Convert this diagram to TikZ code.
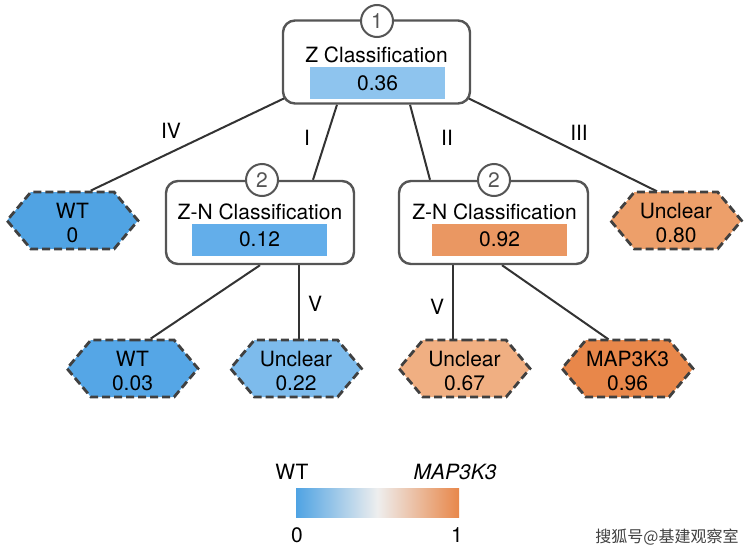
\documentclass[tikz,border=0pt]{standalone}
\usepackage{fontspec}
\setmainfont{TeX Gyre Heros}
\newfontfamily\cjkfont{Noto Sans CJK SC}
\usetikzlibrary{shapes.symbols,backgrounds}

\definecolor{edgegray}{HTML}{333333}
\definecolor{boxgray}{HTML}{555555}
\definecolor{hexgray}{HTML}{404040}
\definecolor{wtblue}{HTML}{4FA3E3}
\definecolor{midgray}{HTML}{EEEEEE}
\definecolor{maporange}{HTML}{E8874A}
% fills for the scores
\definecolor{sc036}{RGB}{142,196,238}
\definecolor{sc012}{RGB}{99,174,234}
\definecolor{sc092}{RGB}{234,151,98}
\definecolor{sc000}{RGB}{80,163,227}
\definecolor{sc080}{RGB}{237,159,106}
\definecolor{sc003}{RGB}{85,166,230}
\definecolor{sc022}{RGB}{125,187,236}
\definecolor{sc067}{RGB}{240,175,130}
\definecolor{sc096}{RGB}{232,135,74}

\tikzset{
  classbox/.style={draw=boxgray, line width=2.4pt, rounded corners=12pt, fill=white,
    minimum width=188pt, minimum height=83pt},
  stepnum/.style={circle, draw=boxgray, line width=2pt, fill=white, minimum size=32pt,
    inner sep=0pt, text=boxgray},
  scorebar/.style={minimum width=135pt, minimum height=32pt, inner sep=0pt},
  leafhex/.style={signal, signal to=west and east, signal pointer angle=100,
    draw=hexgray, dash pattern=on 8pt off 4pt, line width=2.8pt,
    minimum width=131pt, minimum height=57pt, inner sep=0pt, align=center},
  link/.style={draw=edgegray, line width=2pt},
}

\begin{document}
\begin{tikzpicture}[x=1pt, y=-1pt, font=\fontsize{21}{24}\selectfont]
  \useasboundingbox (0,0) rectangle (751,554);

  % Classification boxes
  \node[classbox, minimum width=187pt] (root) at (376.5,62) {};
  \node (roottitle) at (376.5,55) {Z Classification};
  \node[scorebar, fill=sc036] (rootbar) at (377.5,83) {0.36};
  \node[stepnum] (rootnum) at (377,21) {1};

  \node[classbox] (zl) at (260,222.5) {};
  \node (zltitle) at (260,212) {Z-N Classification};
  \node[scorebar, fill=sc012] (zlbar) at (259.5,239.5) {0.12};
  \node[stepnum] (zlnum) at (262,180) {2};

  \node[classbox, minimum width=189pt] (zr) at (493.5,222.5) {};
  \node (zrtitle) at (494.5,212) {Z-N Classification};
  \node[scorebar, fill=sc092] (zrbar) at (499.5,239.5) {0.92};
  \node[stepnum] (zrnum) at (494,180) {2};

  % Leaves
  \foreach \name/\x/\y/\col/\txt in {wt0/72.5/220.5/sc000/WT\\0,
      ufirst/676/220.5/sc080/Unclear\\0.80,
      wtsec/132.5/368.5/sc003/WT\\0.03,
      ulow/296/368.5/sc022/Unclear\\0.22,
      umid/464.5/368.5/sc067/Unclear\\0.67,
      mapk/627.5/368.5/sc096/MAP3K3\\0.96} {
    \node[leafhex, fill=\col] (\name) at (\x,\y) {\rule{0pt}{21pt}\txt};
  }

  % Connectors, behind the boxes
  \begin{pgfonlayer}{background}
    \draw[link] ([shift={(10,-10)}]root.south west) -- ([xshift=-24]wt0.north east);
    \draw[link] ([xshift=-39.5]root.south) -- ([xshift=53]zl.north);
    \draw[link] ([xshift=33.5]root.south) -- ([xshift=-63.5]zr.north);
    \draw[link] ([shift={(-10,-10)}]root.south east) -- ([xshift=24]ufirst.north west);
    \draw[link] (zl.south) -- ([xshift=-24]wtsec.north east);
    \draw[link] ([xshift=3]ulow.north) -- ([xshift=3]ulow.north |- zl.south);
    \draw[link] ([xshift=-11.5]umid.north) -- ([xshift=-11.5]umid.north |- zr.south);
    \draw[link] ([xshift=8.5]zr.south) -- ([xshift=24]mapk.north west);
  \end{pgfonlayer}

  % Branch labels
  \foreach \name/\x/\y/\txt in {lbiv/171/131/IV, lbi/307/138/I, lbii/447/138/II,
      lbiii/579/133/III, lbvl/315/304/V, lbvr/437/307/V} {
    \node (\name) at (\x,\y) {\txt};
  }

  % Colour scale
  \node[minimum width=163pt, minimum height=29pt, inner sep=0pt,
    left color=wtblue, right color=maporange, middle color=midgray] (scale) at (377.5,502.5) {};
  \node (scalewt) at (292,472) {WT};
  \node (scalemap) at (455,472) {\itshape MAP3K3};
  \node (scalelo) at (297,535) {0};
  \node (scalehi) at (457,535) {1};

  \node[font=\cjkfont\fontsize{16}{18}\selectfont, text=black!75] (mark) at (667,537) {搜狐号@基建观察室};
\end{tikzpicture}
\end{document}
